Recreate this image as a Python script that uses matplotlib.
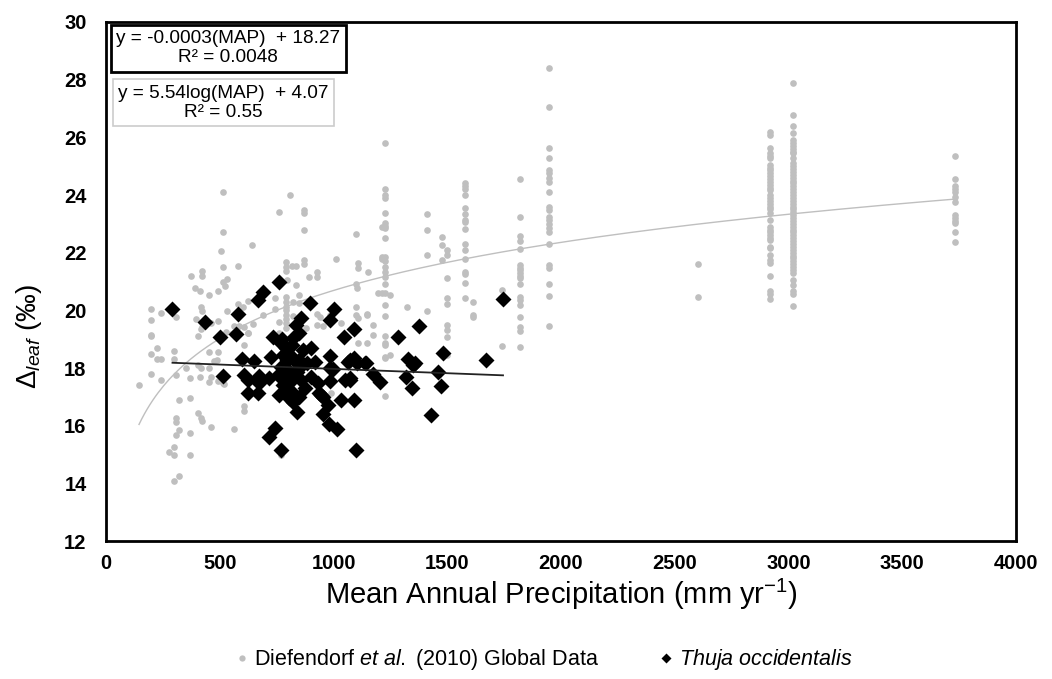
import matplotlib

matplotlib.use("Agg")

import matplotlib.pyplot as plt
import numpy as np

plt.rcParams["font.family"] = ["Liberation Sans", "DejaVu Sans"]
plt.rcParams["mathtext.fontset"] = "custom"
plt.rcParams["mathtext.rm"] = "Liberation Sans"
plt.rcParams["mathtext.it"] = "Liberation Sans:italic"

# Diefendorf et al. (2010) global data, scattered sites (MAP mm/yr, D leaf permil)
glob_x = [145, 197, 224, 197, 224, 243, 300, 300, 197, 243, 307, 351, 369, 403, 417, 414,
          454, 491, 476, 489, 454, 454, 461, 491, 517, 322, 369, 403, 417, 424, 307, 307,
          322, 307, 369, 461, 564, 300, 278, 300, 369, 322, 300, 622, 608, 608, 608, 512,
          516, 513, 506, 641, 513, 579, 373, 421, 421, 513, 530, 391, 414, 454, 491, 523,
          197, 243, 197, 307, 417, 421, 395, 491, 530, 579, 623, 604, 689, 417, 424, 197,
          403, 461, 564, 586, 608, 623, 645, 528,
          810, 759, 869, 869, 869, 1098, 1010, 1108, 1108, 1152, 789, 789, 789, 819, 836, 869,
          869, 892, 927, 927, 795, 1098, 1104, 833, 741, 790, 790, 790, 848, 848, 1098, 1098,
          1145, 927, 741, 790, 790, 790, 790, 790, 820, 820, 760, 760, 880, 988, 770, 1174,
          1174, 1108, 1145, 1034, 954, 939, 983, 927, 1108, 1145, 1321, 1250, 1250, 1196]
glob_y = [17.4, 19.1, 18.7, 18.5, 18.3, 18.3, 18.6, 18.3, 17.8, 17.6, 17.75, 18.0, 17.66, 18.1, 18.0, 17.7,
          18.56, 18.54, 18.25, 18.28, 17.99, 17.5, 17.7, 17.56, 17.43, 16.9, 16.95, 16.43, 16.25, 16.17, 16.25, 16.14,
          15.85, 15.68, 15.75, 15.96, 15.9, 15.27, 15.1, 15.0, 14.98, 14.26, 14.09, 19.2, 18.8, 16.7, 16.5, 17.47,
          24.1, 22.7, 22.07, 22.27, 21.5, 21.54, 21.2, 21.37, 21.2, 20.98, 21.08, 20.76, 20.68, 20.53, 20.68, 20.85,
          20.06, 19.92, 19.66, 19.78, 20.13, 19.99, 19.69, 19.64, 19.99, 20.22, 20.34, 20.13, 19.84, 19.34, 19.43, 19.14,
          19.1, 19.55, 19.47, 19.47, 19.43, 19.2, 19.52, 19.26,
          24.0, 23.4, 23.48, 23.39, 22.79, 22.65, 21.78, 21.63, 21.46, 21.32, 21.69, 21.51, 21.36, 21.54, 21.54, 21.74,
          21.6, 21.17, 21.32, 21.17, 21.05, 20.91, 20.76, 20.88, 20.42, 20.47, 20.3, 20.13, 20.53, 20.24, 20.13, 19.84,
          19.87, 19.87, 20.03, 20.0, 19.85, 19.7, 19.55, 19.4, 20.3, 19.8, 19.6, 19.2, 19.4, 17.12, 15.0, 19.49,
          19.14, 18.86, 18.86, 19.55, 19.45, 19.78, 19.84, 19.49, 19.72, 19.84, 20.1, 20.53, 18.45, 20.61]

# columns of sites sharing the same MAP
col_1228 = [25.8, 24.2, 24.0, 23.9, 23.37, 23.04, 22.92, 22.84, 22.52, 21.86, 21.7, 21.5,
            21.34, 21.17, 20.91, 20.6, 20.18, 19.8, 19.11, 18.8, 18.39, 18.34, 18.86, 17.04]
col_1211 = [22.9, 21.86, 21.77, 20.61]
col_1410 = [23.33, 22.8, 21.93, 19.99]
col_1476 = [22.53, 22.27, 21.74]
col_1500 = [22.09, 21.92, 21.13, 20.42, 19.49, 19.32, 19.06, 18.45, 20.22]
col_1580 = [24.4, 24.3, 24.2, 24.0, 23.54, 23.33, 23.15, 23.05, 22.81, 22.3, 22.09, 21.78,
            21.34, 21.25, 20.94, 20.42]
col_1615 = [20.3, 19.84, 19.76]
col_1740 = [20.7, 18.76]
col_1820 = [24.54, 23.25, 22.58, 22.41, 22.12, 21.57, 21.48, 21.39, 21.3, 21.2, 21.11, 20.9,
            20.47, 20.36, 20.17, 19.78, 19.43, 19.29, 18.74]
col_1949 = [28.4, 27.04, 25.62, 25.27, 24.87, 24.75, 24.6, 24.46, 24.1, 23.59, 23.48, 23.25,
            23.12, 23.0, 22.85, 22.7, 22.3, 21.57, 21.46, 20.91, 20.5, 19.47]
col_2600 = [21.6, 20.46]
col_2920 = [26.2, 26.08, 25.64, 25.45, 25.35, 25.28, 25.04, 24.95, 24.85, 24.75, 24.65, 24.55,
            24.45, 24.35, 24.25, 24.17, 24.0, 23.9, 23.8, 23.7, 23.6, 23.5, 23.37, 23.13,
            22.9, 22.8, 22.7, 22.6, 22.5, 22.44, 22.2, 22.15, 21.92, 21.74, 21.63, 21.19,
            20.68, 20.57, 20.38]
col_3020 = [27.9, 26.77, 26.39, 26.16, 25.9, 25.8, 25.7, 25.6, 25.5, 25.45, 25.3, 25.1,
            25.0, 24.9, 24.8, 24.7, 24.6, 24.5, 24.4, 24.3, 24.2, 24.1, 24.0, 23.9, 23.8,
            23.7, 23.6, 23.5, 23.4, 23.3, 23.2, 23.1, 23.0, 22.9, 22.8, 22.7, 22.6, 22.5,
            22.4, 22.3, 22.2, 22.1, 22.0, 21.9, 21.8, 21.7, 21.6, 21.5, 21.4, 21.28, 21.05,
            20.88, 20.68, 20.57, 20.16]
col_3730 = [25.35, 24.55, 24.3, 24.2, 24.1, 23.94, 23.77, 23.3, 23.2, 23.1, 23.04, 22.73, 22.37]

columns = {
    1228: col_1228, 1211: col_1211, 1410: col_1410, 1476: col_1476, 1500: col_1500,
    1580: col_1580, 1615: col_1615, 1740: col_1740, 1820: col_1820, 1949: col_1949,
    2600: col_2600, 2920: col_2920, 3020: col_3020, 3730: col_3730,
}

# Thuja occidentalis
thuja_x = [292, 436, 500, 571, 582, 666, 691, 762, 898, 1002, 983, 1089, 1047, 855, 836, 850,
           736, 770, 821, 793, 866, 903, 597, 649, 723, 776, 816, 838, 883, 920, 983, 1062,
           1092, 1104, 1141, 1283, 770, 800, 850, 828, 785, 806, 859, 903, 932, 983, 1050, 1072,
           998, 1174, 1204, 513, 608, 623, 674, 718, 674, 623, 666, 762, 806, 806, 850, 938,
           952, 1034, 1089, 975, 952, 979, 1014, 744, 715, 767, 1100, 1071, 1137, 1071, 983, 946,
           1376, 1328, 1350, 1358, 1318, 1343, 1457, 1479, 1473, 1427, 1670, 1745,
           772, 816, 794, 838, 776, 850, 816, 873, 754, 820, 838]
thuja_y = [20.04, 19.6, 19.09, 19.18, 19.87, 20.36, 20.64, 21.0, 20.26, 20.04, 19.66, 19.34, 19.09, 19.75, 19.49, 19.2,
           19.09, 18.86, 19.03, 18.68, 18.62, 18.68, 18.3, 18.25, 18.39, 18.45, 18.39, 18.16, 18.16, 18.22, 18.42, 18.22,
           18.34, 18.16, 18.16, 19.09, 18.04, 17.93, 17.99, 17.7, 17.76, 17.47, 17.58, 17.7, 17.47, 17.56, 17.58, 17.6,
           17.96, 17.8, 17.5, 17.72, 17.75, 17.58, 17.72, 17.64, 17.47, 17.15, 17.15, 17.07, 16.95, 17.24, 17.01, 17.12,
           17.01, 16.9, 16.9, 16.72, 16.41, 16.06, 15.88, 15.91, 15.6, 15.15, 15.17, 18.28, 18.18, 17.64, 17.99, 17.07,
           19.45, 18.3, 18.1, 18.16, 17.7, 17.32, 17.87, 18.51, 17.39, 16.36, 18.28, 20.4,
           19.0, 18.8, 18.28, 17.87, 17.41, 18.28, 17.18, 17.3, 17.76, 16.82, 16.47]

# trendline coefficients as printed on the chart
lin_slope, lin_icpt = -0.0003, 18.27
log_slope, log_icpt = 5.54, 4.07

GREY = "#bfbfbf"

fig = plt.figure(figsize=(10.52, 6.79), dpi=100)
ax = fig.add_axes([0.1008, 0.2032, 0.8650, 0.7644])

all_gx = list(glob_x)
all_gy = list(glob_y)
for cx, ys in columns.items():
    all_gx += [cx] * len(ys)
    all_gy += ys
ax.plot(all_gx, all_gy, "o", color=GREY, ms=4.8, mec="none", zorder=2)

gx = np.linspace(min(all_gx), max(all_gx), 300)
ax.plot(gx, log_slope * np.log10(gx) + log_icpt, color=GREY, lw=1.0, zorder=3)

ax.plot(thuja_x, thuja_y, "D", color="black", ms=7.8, mec="none", zorder=4)
tx = np.array([min(thuja_x), max(thuja_x)])
ax.plot(tx, lin_slope * tx + lin_icpt, color="#222222", lw=1.3, zorder=5)

ax.set_xlim(0, 4000)
ax.set_ylim(12, 30)
ax.set_xticks(range(0, 4001, 500))
ax.set_yticks(range(12, 31, 2))
ax.tick_params(axis="x", length=0, labelsize=14.5, pad=9)
ax.tick_params(axis="y", length=0, labelsize=14.5, pad=14)
for lab in ax.get_xticklabels() + ax.get_yticklabels():
    lab.set_fontweight("bold")
for sp in ax.spines.values():
    sp.set_linewidth(2.0)

ax.set_xlabel("Mean Annual Precipitation (mm yr$^{-1}$)", fontsize=21, labelpad=3)
ax.set_ylabel(r"$\Delta_{\it{leaf}}$ (‰)", fontsize=20, labelpad=8)
ax.yaxis.set_label_coords(-0.068, 0.395)

ax.text(0.011, 0.984, "y = -0.0003(MAP)  + 18.27\nR² = 0.0048", transform=ax.transAxes,
        ha="left", va="top", fontsize=13.7, multialignment="center", linespacing=1.15,
        bbox=dict(boxstyle="square,pad=0.28", fc="white", ec="black", lw=2.0), zorder=6)
ax.text(0.013, 0.879, "y = 5.54log(MAP)  + 4.07\nR² = 0.55", transform=ax.transAxes,
        ha="left", va="top", fontsize=13.7, multialignment="center", linespacing=1.15,
        bbox=dict(boxstyle="square,pad=0.28", fc="white", ec="#cccccc", lw=1.2), zorder=6)

h1 = plt.Line2D([], [], ls="none", marker="o", color=GREY, ms=4.5, mec="none")
h2 = plt.Line2D([], [], ls="none", marker="D", color="black", ms=5.5, mec="none")
fig.legend([h1, h2],
           [r"Diefendorf $\it{et\ al.}$ (2010) Global Data", r"$\it{Thuja\ occidentalis}$"],
           loc="center", bbox_to_anchor=(0.515, 0.028), ncol=2, frameon=False,
           fontsize=15.5, handletextpad=0.1, columnspacing=2.6, handlelength=1.0)

fig.savefig("out.png", dpi=100)
